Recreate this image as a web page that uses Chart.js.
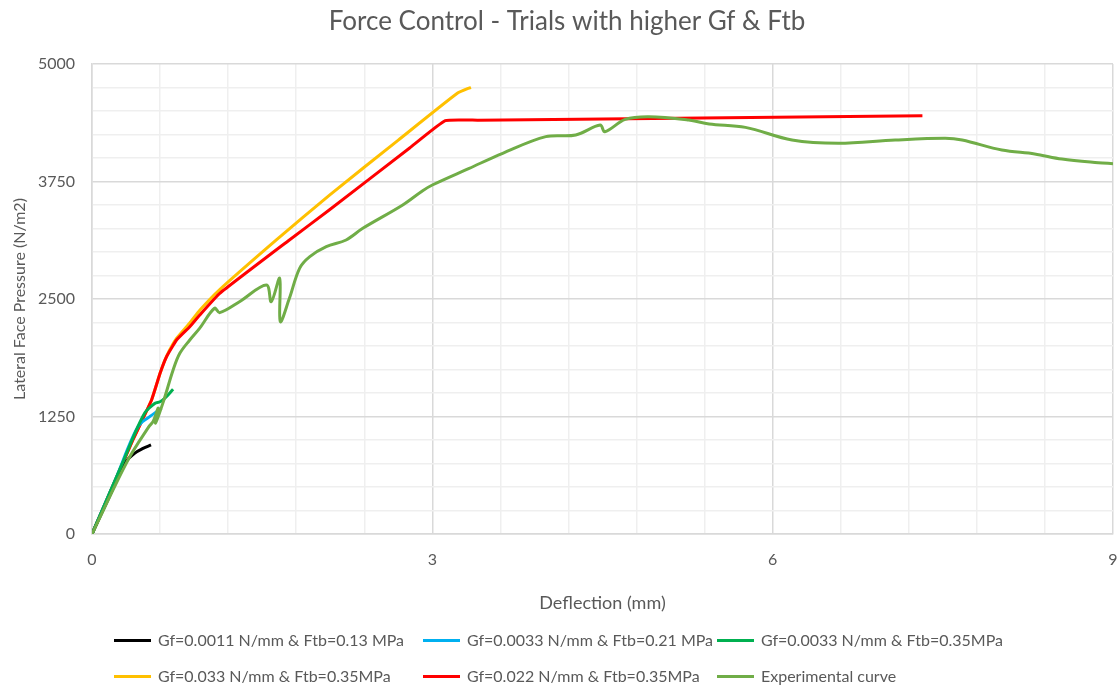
<!DOCTYPE html>
<html>
<head>
<meta charset="utf-8">
<script src="https://cdn.jsdelivr.net/npm/chart.js@4"></script>
<style>
  html, body { margin: 0; padding: 0; background: #fff; }
  #wrap { position: relative; width: 1118px; height: 686px; }
  #legend { position: absolute; left: 0; top: 0; width: 1118px; height: 686px; pointer-events: none;
            font-family: "Lato", "Liberation Sans", sans-serif; font-size: 16px; color: #595959; }
  .item { position: absolute; white-space: nowrap; height: 20px; line-height: 20px; }
  .swatch { position: absolute; top: 9px; height: 3px; }
</style>
</head>
<body>
<div id="wrap">
  <canvas id="c" width="1118" height="686"></canvas>
  <div id="legend"></div>
</div>
<script>
// ---- data (deflection in mm, pressure in N/m2) ----
const seriesNames = [
  "Gf=0.0011 N/mm & Ftb=0.13 MPa",
  "Gf=0.0033 N/mm & Ftb=0.21 MPa",
  "Gf=0.0033 N/mm & Ftb=0.35MPa",
  "Gf=0.033 N/mm & Ftb=0.35MPa",
  "Gf=0.022 N/mm & Ftb=0.35MPa",
  "Experimental curve"
];
const seriesColors = ["#000000", "#00b0f0", "#00b050", "#ffc000", "#ff0000", "#70ad47"];

const blackX = [0, 0.15, 0.30, 0.375, 0.45, 0.52];
const blackY = [0, 390, 769, 858, 910, 947];

const blueX = [0, 0.2, 0.41, 0.50, 0.613];
const blueY = [0, 560, 1150, 1240, 1340];

const dkGreenX = [0, 0.25, 0.466, 0.50, 0.554, 0.60, 0.64, 0.715];
const dkGreenY = [0, 700, 1290, 1335, 1390, 1407, 1443, 1540];

const yellowX = [0, 0.27, 0.36, 0.525, 0.60, 0.657, 0.745, 0.862, 0.95, 1.126, 1.625, 2.094, 2.7, 3.22, 3.34];
const yellowY = [0, 752, 1000, 1426, 1710, 1890, 2080, 2245, 2380, 2600, 3128, 3606, 4190, 4688, 4752];

const redX = [0, 0.27, 0.36, 0.525, 0.60, 0.657, 0.745, 0.862, 0.95, 1.126, 1.74, 2.094, 2.8, 3.114, 3.4, 4.29, 7.32];
const redY = [0, 752, 1000, 1426, 1710, 1886, 2064, 2205, 2330, 2560, 3128, 3450, 4106, 4397, 4402, 4411, 4450];

const expX = [0, 0.317, 0.50, 0.54, 0.584, 0.56, 0.627, 0.715, 0.774, 0.862, 0.95, 1.08, 1.126, 1.30, 1.537, 1.58, 1.654, 1.66, 1.74, 1.83, 1.92, 2.065, 2.24, 2.387, 2.739, 2.915, 3.0, 3.325, 3.62, 4.0, 4.264, 4.48, 4.52, 4.70, 4.91, 5.26, 5.44, 5.76, 6.17, 6.58, 7.08, 7.52, 7.67, 8.02, 8.31, 8.55, 8.87, 9.0];
const expY = [0, 787, 1140, 1200, 1340, 1180, 1400, 1745, 1922, 2064, 2190, 2401, 2355, 2471, 2649, 2471, 2720, 2259, 2507, 2826, 2950, 3056, 3128, 3252, 3500, 3652, 3713, 3890, 4050, 4227, 4245, 4351, 4280, 4411, 4440, 4404, 4362, 4326, 4191, 4156, 4191, 4209, 4191, 4085, 4043, 3989, 3950, 3940];

const xTickLabels = ["0", "3", "6", "9"];
const yTickLabels = ["0", "1250", "2500", "3750", "5000"];

// ---- build ----
const xs = [blackX, blueX, dkGreenX, yellowX, redX, expX];
const ys = [blackY, blueY, dkGreenY, yellowY, redY, expY];
const drawOrder = [3, 4, 2, 6, 5, 1]; // lower = on top
const interp = ["monotone", "monotone", "monotone", "default", "default", "default"];
const tensions = [0.35, 0.35, 0.35, 0.15, 0.12, 0.35];

const datasets = xs.map((xa, i) => ({
  label: seriesNames[i],
  data: xa.map((x, k) => ({ x: x, y: ys[i][k] })),
  borderColor: seriesColors[i],
  backgroundColor: seriesColors[i],
  borderWidth: 3,
  pointRadius: 0,
  showLine: true,
  tension: tensions[i],
  cubicInterpolationMode: interp[i],
  order: drawOrder[i],
  fill: false
}));

const FONT = "Lato, 'Liberation Sans', sans-serif";
const GRAY = "#595959";

new Chart(document.getElementById("c"), {
  type: "scatter",
  data: { datasets },
  options: {
    responsive: false,
    animation: false,
    events: [],
    layout: { padding: { left: 16, right: 0, top: 0, bottom: 62 } },
    plugins: {
      legend: { display: false },
      tooltip: { enabled: false },
      title: {
        display: true,
        text: "Force Control - Trials with higher Gf & Ftb",
        color: GRAY,
        font: { family: FONT, size: 26, weight: "normal", lineHeight: 1.2 },
        padding: { top: 6, bottom: 26.8 }
      }
    },
    scales: {
      x: {
        type: "linear",
        min: 0, max: 9,
        afterFit: (s) => { s.height = 90; s.paddingRight = 5; s.paddingLeft = 0; },
        ticks: {
          stepSize: 0.6,
          autoSkip: false,
          maxRotation: 0,
          padding: 16,
          color: GRAY,
          font: { family: FONT, size: 16 },
          callback: (v) => {
            const r = v / 3;
            if (Math.abs(r - Math.round(r)) < 1e-6) {
              const lbl = String(Math.round(v));
              return xTickLabels.includes(lbl) ? lbl : "";
            }
            return "";
          }
        },
        grid: {
          drawTicks: false,
          color: (ctx) => {
            const v = ctx.tick ? ctx.tick.value : 0;
            const r = v / 3;
            return Math.abs(r - Math.round(r)) < 1e-6 ? "#d9d9d9" : "#efefef";
          },
          lineWidth: 1.5
        },
        border: { color: "#d9d9d9", width: 1.5 },
        title: {
          display: true,
          text: "Deflection (mm)",
          color: GRAY,
          font: { family: FONT, size: 18 },
          padding: { top: 0, bottom: 10 }
        }
      },
      y: {
        type: "linear",
        min: 0, max: 5000,
        afterFit: (s) => { s.width = 76; s.paddingTop = 0; s.paddingBottom = 0; },
        ticks: {
          stepSize: 250,
          autoSkip: false,
          padding: 17,
          color: GRAY,
          font: { family: FONT, size: 16 },
          callback: (v) => {
            const lbl = String(v);
            return (v % 1250 === 0 && yTickLabels.includes(lbl)) ? lbl : "";
          }
        },
        grid: {
          drawTicks: false,
          color: (ctx) => {
            const v = ctx.tick ? ctx.tick.value : 0;
            return v % 1250 === 0 ? "#d9d9d9" : "#efefef";
          },
          lineWidth: 1.5
        },
        border: { color: "#d9d9d9", width: 1.5 },
        title: {
          display: true,
          text: "Lateral Face Pressure (N/m2)",
          color: GRAY,
          font: { family: FONT, size: 16, lineHeight: 1 },
          padding: { top: -4, bottom: 0 }
        }
      }
    }
  }
});

// ---- legend (Excel-like fixed columns) ----
const legendTextX = [158, 467, 761];
const legendRows = [640, 676];
const legend = document.getElementById("legend");
seriesNames.forEach((name, i) => {
  const item = document.createElement("div");
  item.className = "item";
  const tx0 = legendTextX[i % 3];
  item.style.left = tx0 + "px";
  item.style.top = (legendRows[Math.floor(i / 3)] - 10) + "px";
  const sw = document.createElement("span");
  sw.className = "swatch";
  sw.style.left = "-44px";
  sw.style.width = "37px";
  sw.style.background = seriesColors[i];
  const tx = document.createElement("span");
  tx.textContent = name;
  item.appendChild(sw);
  item.appendChild(tx);
  legend.appendChild(item);
});
</script>
</body>
</html>
